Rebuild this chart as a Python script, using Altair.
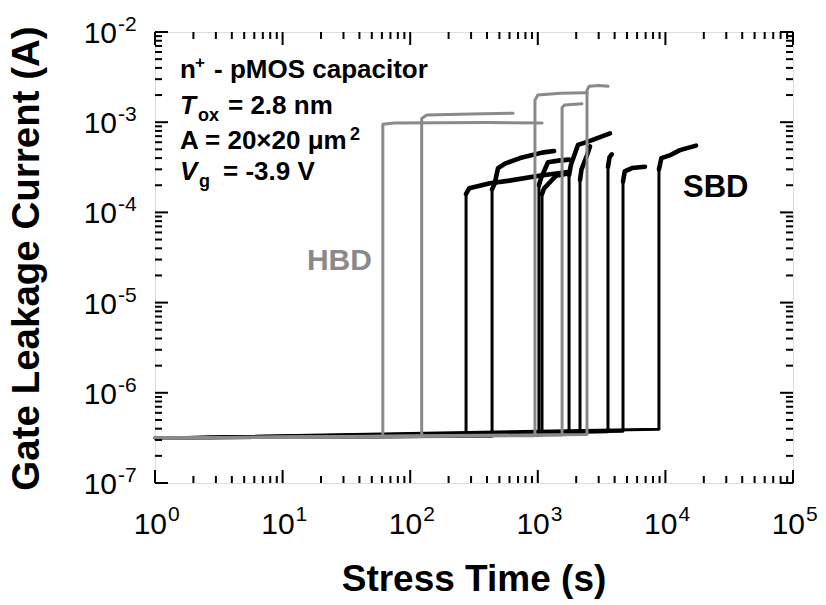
import altair as alt
import pandas as pd

FONT = "Liberation Sans"
W, H = 638, 451

# ---- HBD (gray) curves: stress time (s) and gate current (A)
G1_T = [1, 61, 61, 75, 400, 1080]
G1_I = [3.15e-7, 3.25e-7, 9.5e-4, 9.8e-4, 9.9e-4, 9.8e-4]
G2_T = [1, 123, 123, 135, 300, 640]
G2_I = [3.15e-7, 3.28e-7, 1.1e-3, 1.2e-3, 1.23e-3, 1.26e-3]
G3_T = [1, 950, 950, 1000, 1500, 2430]
G3_I = [3.15e-7, 3.35e-7, 1.75e-3, 2.0e-3, 2.1e-3, 2.12e-3]
G4_T = [1, 2430, 2430, 2520, 3000, 3550]
G4_I = [3.15e-7, 3.45e-7, 2.25e-3, 2.5e-3, 2.55e-3, 2.5e-3]
G5_T = [1, 1550, 1550, 1620, 2220]
G5_I = [3.15e-7, 3.4e-7, 1.45e-3, 1.55e-3, 1.6e-3]

# ---- SBD (black) curves
B1_T = [1, 274, 274, 290, 422, 600, 1021, 1725]
B1_I = [3.15e-7, 3.3e-7, 1.6e-4, 1.85e-4, 2.1e-4, 2.25e-4, 2.55e-4, 2.8e-4]
B2_T = [1, 438, 438, 460, 488, 560, 726, 1079, 1340]
B2_I = [3.15e-7, 3.3e-7, 1.8e-4, 2.1e-4, 3.1e-4, 3.5e-4, 4.0e-4, 4.6e-4, 4.8e-4]
B3_T = [1, 1021, 1021, 1060, 1202, 1450, 1757]
B3_I = [3.15e-7, 3.4e-7, 2.0e-4, 2.4e-4, 3.6e-4, 3.75e-4, 3.85e-4]
B4_T = [1, 1079, 1079, 1120, 1390, 1725]
B4_I = [3.15e-7, 3.4e-7, 1.6e-4, 1.85e-4, 2.55e-4, 2.7e-4]
B5_T = [1, 1757, 1757, 1820, 2065, 2566, 3681]
B5_I = [3.15e-7, 3.55e-7, 2.6e-4, 3.4e-4, 5.6e-4, 6.2e-4, 7.5e-4]
B6_T = [1, 2142, 2142, 2200, 2430, 2566]
B6_I = [3.15e-7, 3.6e-7, 2.3e-4, 3.0e-4, 4.3e-4, 5.4e-4]
B7_T = [1, 3548, 3548, 3650, 3800]
B7_I = [3.15e-7, 3.7e-7, 3.2e-4, 4.1e-4, 4.4e-4]
B8_T = [1, 4654, 4654, 4800, 5470, 6920]
B8_I = [3.15e-7, 3.75e-7, 2.2e-4, 2.85e-4, 3.1e-4, 3.2e-4]
B9_T = [1, 8900, 8900, 9300, 11070, 13000, 17380]
B9_I = [3.15e-7, 3.95e-7, 3.0e-4, 4.0e-4, 4.35e-4, 4.9e-4, 5.5e-4]

GRAY_CURVES = {"G1": (G1_T, G1_I), "G2": (G2_T, G2_I), "G3": (G3_T, G3_I),
               "G4": (G4_T, G4_I), "G5": (G5_T, G5_I)}
BLACK_CURVES = {"B1": (B1_T, B1_I), "B2": (B2_T, B2_I), "B3": (B3_T, B3_I),
                "B4": (B4_T, B4_I), "B5": (B5_T, B5_I), "B6": (B6_T, B6_I),
                "B7": (B7_T, B7_I), "B8": (B8_T, B8_I), "B9": (B9_T, B9_I)}

# ---- axes
X_TICKS = [1, 10, 100, 1000, 10000, 100000]
X_EXP = ["0", "1", "2", "3", "4", "5"]
Y_TICKS = [1e-7, 1e-6, 1e-5, 1e-4, 1e-3, 1e-2]
Y_EXP = ["-7", "-6", "-5", "-4", "-3", "-2"]
MINOR_MULT = [2, 3, 4, 5, 6, 7, 8, 9]
X_TITLE = "Stress Time (s)"
Y_TITLE = "Gate Leakage Current (A)"


def frame(curves):
    rows = []
    for name, (ts, vs) in curves.items():
        for k, (t, v) in enumerate(zip(ts, vs)):
            rows.append({"curve": name, "idx": k, "t": t, "I": v})
    return pd.DataFrame(rows)


xs = alt.Scale(type="log", domain=[1, 1e5], nice=False)
ys = alt.Scale(type="log", domain=[1e-7, 1e-2], nice=False)

X = alt.X("t:Q", scale=xs, axis=None)
Y = alt.Y("I:Q", scale=ys, axis=None)

bdf = frame(BLACK_CURVES)
black = alt.Chart(bdf).mark_line(
    color="black", strokeWidth=3, strokeJoin="round", strokeCap="round"
).encode(x=X, y=Y, detail="curve:N", order="idx:Q")
# post-breakdown (noisy) part drawn heavier, as in the original
black_top = alt.Chart(bdf[bdf["idx"] >= 2]).mark_line(
    color="black", strokeWidth=4.6, strokeJoin="round", strokeCap="round"
).encode(x=X, y=Y, detail="curve:N", order="idx:Q")

gray = alt.Chart(frame(GRAY_CURVES)).mark_line(
    color="#8a8a8a", strokeWidth=3, strokeJoin="round", strokeCap="round"
).encode(x=X, y=Y, detail="curve:N", order="idx:Q")

# ---- inward ticks on all four sides
xmaj = pd.DataFrame({"t": X_TICKS})
xmin = pd.DataFrame({"t": [m * b for b in X_TICKS[:-1] for m in MINOR_MULT]})
ymaj = pd.DataFrame({"I": Y_TICKS})
ymin = pd.DataFrame({"I": [m * b for b in Y_TICKS[:-1] for m in MINOR_MULT]})


def xticks(df, length):
    base = alt.Chart(df).mark_rule(color="black", strokeWidth=2)
    return (base.encode(x=X, y=alt.value(H), y2=alt.value(H - length)) +
            base.encode(x=X, y=alt.value(0), y2=alt.value(length)))


def yticks(df, length):
    base = alt.Chart(df).mark_rule(color="black", strokeWidth=2)
    return (base.encode(y=Y, x=alt.value(0), x2=alt.value(length)) +
            base.encode(y=Y, x=alt.value(W), x2=alt.value(W - length)))


ticks = xticks(xmaj, 13) + xticks(xmin, 7) + yticks(ymaj, 13) + yticks(ymin, 7)

# ---- tick labels with superscript exponents
xl = pd.DataFrame({"t": X_TICKS, "base": ["10"] * 6, "exp": X_EXP})
yl = pd.DataFrame({"I": Y_TICKS, "base": ["10"] * 6, "exp": Y_EXP})

xlab = (alt.Chart(xl).mark_text(font=FONT, fontSize=30, align="right", baseline="alphabetic",
                                dx=12, color="black")
        .encode(x=X, y=alt.value(H + 51), text="base:N") +
        alt.Chart(xl).mark_text(font=FONT, fontSize=21, align="left", baseline="alphabetic",
                                dx=13, color="black")
        .encode(x=X, y=alt.value(H + 38), text="exp:N"))

ylab = (alt.Chart(yl).mark_text(font=FONT, fontSize=30, align="right", baseline="alphabetic",
                                dy=11, color="black")
        .encode(y=Y, x=alt.value(-38), text="base:N") +
        alt.Chart(yl).mark_text(font=FONT, fontSize=21, align="left", baseline="alphabetic",
                                dy=-1, color="black")
        .encode(y=Y, x=alt.value(-37), text="exp:N"))

titles = (alt.Chart(pd.DataFrame({"s": [X_TITLE]})).mark_text(
              font=FONT, fontSize=37, fontWeight="bold", align="center",
              baseline="alphabetic", color="black")
          .encode(x=alt.value(W / 2), y=alt.value(H + 108), text="s:N") +
          alt.Chart(pd.DataFrame({"s": [Y_TITLE]})).mark_text(
              font=FONT, fontSize=38.5, fontWeight="bold", align="center",
              baseline="alphabetic", angle=270, color="black")
          .encode(x=alt.value(-116), y=alt.value(H / 2 + 1), text="s:N"))

# ---- annotations
ANN_T = 1.57
LINE_I = [3.1e-3, 1.22e-3, 5.05e-4, 2.29e-4]


def txt(s, t, i, dx=0, dy=0, size=26, italic=False, color="black"):
    return alt.Chart(pd.DataFrame({"t": [t], "I": [i], "s": [s]})).mark_text(
        font=FONT, fontSize=size, fontWeight="bold",
        fontStyle="italic" if italic else "normal",
        align="left", baseline="alphabetic", dx=dx, dy=dy, color=color
    ).encode(x=X, y=Y, text="s:N")


ann = (txt("n", ANN_T, LINE_I[0]) + txt("+", ANN_T, LINE_I[0], dx=15, dy=-10, size=17) +
       txt("- pMOS capacitor", ANN_T, LINE_I[0], dx=34) +
       txt("T", ANN_T, LINE_I[1], italic=True) + txt("ox", ANN_T, LINE_I[1], dx=18, dy=7, size=18) +
       txt("= 2.8 nm", ANN_T, LINE_I[1], dx=48) +
       txt("A = 20\u00d720 \u03bcm", ANN_T, LINE_I[2]) +
       txt("2", ANN_T, LINE_I[2], dx=170, dy=-9, size=18) +
       txt("V", ANN_T, LINE_I[3], italic=True) + txt("g", ANN_T, LINE_I[3], dx=19, dy=7, size=18) +
       txt("= -3.9 V", ANN_T, LINE_I[3], dx=43) +
       txt("HBD", 15.5, 2.3e-5, size=30, color="#8a8a8a") +
       txt("SBD", 13740, 1.48e-4, size=31))

chart = alt.layer(black, black_top, gray, ticks, xlab, ylab, titles, ann).properties(
    width=W, height=H,
    autosize=alt.AutoSizeParams(type="none"),
    padding={"left": 155, "top": 32, "right": 33, "bottom": 122},
).configure_view(stroke="black", strokeWidth=3.5).configure(background="white")

chart.save("out.html", embed_options={"renderer": "svg", "actions": False})
